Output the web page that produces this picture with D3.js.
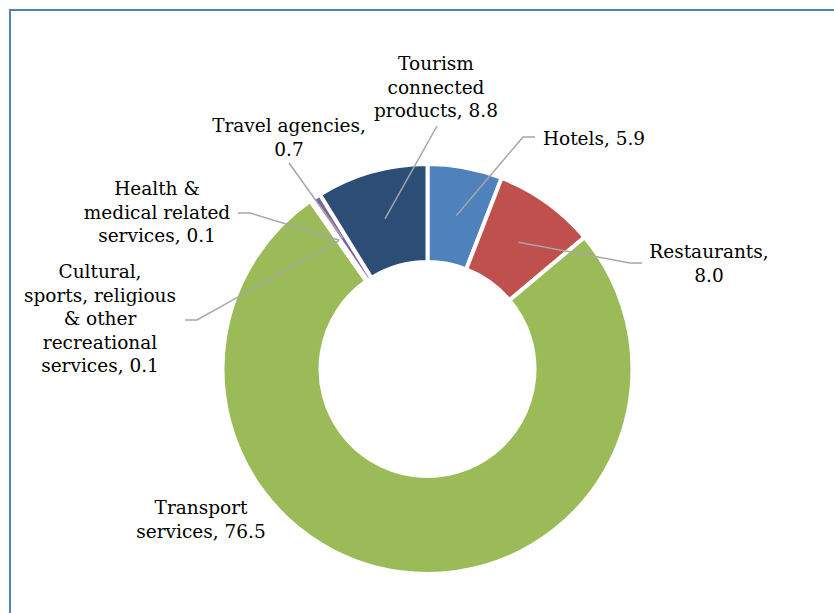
<!DOCTYPE html>
<html lang="en">

<head>
  <meta charset="UTF-8">
  <title>tourism donut</title>
  <script src="https://d3js.org/d3.v7.min.js"></script>
  <style>
    body {
      margin: 0;
      background: white;
    }

    .lbl {
      font-family: "DejaVu Serif", Georgia, serif;
      font-size: 18.5px;
      fill: #000;
    }

    .leader {
      stroke: #a6a6a6;
      stroke-width: 1.5px;
      fill: none;
    }
  </style>
</head>

<body>
  <svg id="donut" width="834" height="613"></svg>

  <script>
    // data (share of total, %)
    const categories = ["Hotels", "Restaurants", "Transport services",
      "Cultural, sports, religious & other recreational services",
      "Health & medical related services", "Travel agencies",
      "Tourism connected products"];
    const values = [5.9, 8.0, 76.5, 0.1, 0.1, 0.7, 8.8];
    const valueLabels = ["5.9", "8.0", "76.5", "0.1", "0.1", "0.7", "8.8"];
    // how each label is broken into lines (last line gets the value)
    const labelLines = [
      ["Hotels, "],
      ["Restaurants,", ""],
      ["Transport", "services, "],
      ["Cultural,", "sports, religious", "& other", "recreational", "services, "],
      ["Health &", "medical related", "services, "],
      ["Travel agencies,", ""],
      ["Tourism", "connected", "products, "]
    ];
    const colors = ["#4f81bd", "#c0504d", "#9bbb59", "#4bacc6", "#f79646", "#8064a2", "#2c4d75"];

    // layout of the hand-placed labels: text anchor, first baseline, leader elbow/end
    const labelLayout = [
      { x: 594, y: 145, elbow: [523, 137], end: [535, 137] },
      { x: 709, y: 258, elbow: [630, 263], end: [642, 263] },
      { x: 201, y: 514, elbow: null, end: null },
      { x: 100, y: 278, elbow: [197, 320], end: [185, 320] },
      { x: 157, y: 195, elbow: [250, 213], end: [238, 213] },
      { x: 289, y: 132, elbow: null, end: [289, 163] },
      { x: 436, y: 70, elbow: null, end: [437, 126] }
    ];

    const svg = d3.select("#donut");
    const cx = 427.5, cy = 369;
    const outerR = 205, innerR = 107;
    const lineH = 23.5;

    // chart frame (runs off the right and bottom edges)
    svg.append("rect")
      .attr("x", 10).attr("y", 10)
      .attr("width", 900).attr("height", 700)
      .attr("fill", "none")
      .attr("stroke", "#4f81bd")
      .attr("stroke-width", 2);

    const data = categories.map((c, i) => ({ name: c, value: values[i], i: i }));

    const pie = d3.pie().value(d => d.value).sort(null);
    const arc = d3.arc().innerRadius(innerR).outerRadius(outerR);
    const arcs = pie(data);

    const g = svg.append("g").attr("transform", "translate(" + cx + "," + cy + ")");

    g.selectAll("path.slice").data(arcs)
      .join("path")
      .attr("class", "slice")
      .attr("d", arc)
      .attr("fill", d => colors[d.data.i])
      .attr("stroke", "white")
      .attr("stroke-width", 4)
      .attr("stroke-linejoin", "miter");

    // leader lines from the slice centroid
    arcs.forEach((d, i) => {
      const L = labelLayout[i];
      if (!L.end) return;
      const c = arc.centroid(d);
      const pts = [[c[0] + cx, c[1] + cy]];
      if (L.elbow) pts.push(L.elbow);
      pts.push(L.end);
      svg.append("path")
        .attr("class", "leader")
        .attr("d", d3.line()(pts));
    });

    // labels
    labelLines.forEach((lines, i) => {
      const L = labelLayout[i];
      const t = svg.append("text")
        .attr("class", "lbl")
        .attr("text-anchor", "middle")
        .attr("x", L.x)
        .attr("y", L.y);
      lines.forEach((s, k) => {
        const txt = k === lines.length - 1 ? s + valueLabels[i] : s;
        t.append("tspan")
          .attr("x", L.x)
          .attr("dy", k === 0 ? 0 : lineH)
          .text(txt);
      });
    });
  </script>
</body>

</html>
